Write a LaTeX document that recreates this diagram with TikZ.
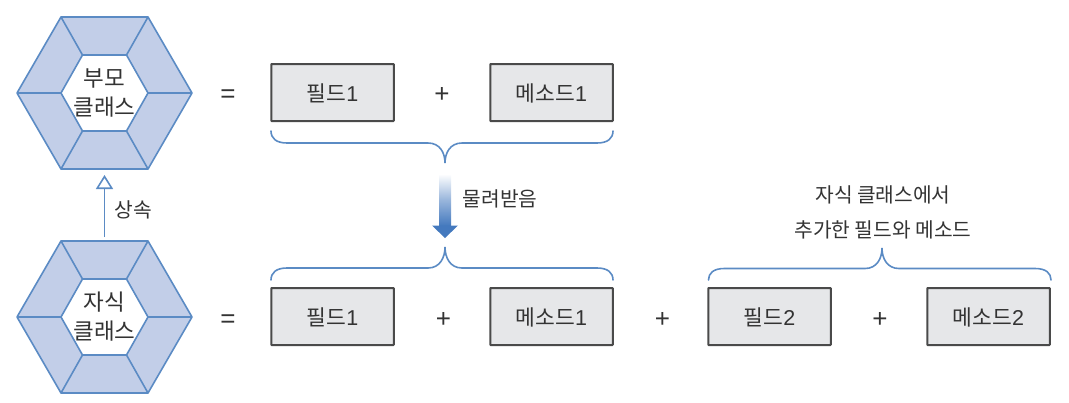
\documentclass[tikz,border=0pt]{standalone}
\usepackage{fontspec}
\setmainfont{Noto Sans CJK KR}
\newfontfamily\latinf{Liberation Sans}
\usetikzlibrary{arrows.meta,shadings,calc}
\definecolor{hexline}{HTML}{5B8BC4}
\definecolor{hexfill}{HTML}{C2CEE8}
\definecolor{boxfill}{HTML}{E6E7E9}
\definecolor{boxline}{HTML}{4A4A4A}
\definecolor{txt}{HTML}{333333}
\definecolor{arrowblue}{HTML}{4479BE}
\tikzset{
  x=1pt,y=-1pt,
  hexside/.style={draw=hexline,line width=1.6pt,fill=hexfill,line join=round},
  spoke/.style={draw=hexline,line width=1.6pt},
  databox/.style={draw=boxline,line width=2pt,fill=boxfill,rounded corners=0.6pt,minimum width=122.5pt,minimum height=57pt,inner sep=0pt,text=txt,text height=17pt,text depth=0pt,font=\fontsize{21.5}{24}\selectfont},
  oper/.style={text=txt,inner sep=0pt,font=\latinf\fontsize{26}{28}\selectfont},
  lbl/.style={text=txt,inner sep=0pt,font=\fontsize{20.3}{23}\selectfont,align=center},
  hexlbl/.style={text=txt,inner sep=0pt,font=\fontsize{22.5}{29}\selectfont,align=center},
  bracel/.style={draw=hexline,line width=1.6pt,line cap=round},
}
\newcommand{\hexa}[2]{%
  \begin{scope}[shift={(#1,#2)}]
    \draw[hexside] (-87.5,0) -- (-43.5,-76) -- (43.5,-76) -- (87.5,0) -- (43.5,76) -- (-43.5,76) -- cycle;
    \fill[white,draw=hexline,line width=1.6pt] (-43.5,0) -- (-22,-38) -- (22,-38) -- (43.5,0) -- (22,38) -- (-22,38) -- cycle;
    \draw[spoke] (-87.5,0) -- (-43.5,0) (87.5,0) -- (43.5,0)
      (-43.5,-76) -- (-22,-38) (43.5,-76) -- (22,-38)
      (-43.5,76) -- (-22,38) (43.5,76) -- (22,38);
  \end{scope}}
% brace: x1, x2, xm, end y, bar y, tip y
\newcommand{\bracec}[6]{%
  \draw[bracel] (#1,#4) .. controls ({#1},{#4*.4+#5*.6}) and ({#1+5},#5) .. ({#1+16},#5)
    -- ({#3-17},#5) .. controls ({#3-5},#5) and (#3,{(#5+#6)/2}) .. (#3,#6)
    .. controls (#3,{(#5+#6)/2}) and ({#3+5},#5) .. ({#3+17},#5)
    -- ({#2-16},#5) .. controls ({#2-5},#5) and (#2,{#4*.4+#5*.6}) .. (#2,#4);}
\begin{document}
\begin{tikzpicture}
\useasboundingbox (0,0) rectangle (1069,402);
\hexa{104.5}{93}
\hexa{104.5}{317}
\node[hexlbl] (pc) at (104.5,93) {부모\\클래스};
\node[hexlbl] (cc) at (104.5,317) {자식\\클래스};
\coordinate (ctop) at (104.5,237);
\coordinate (ptip) at (104.5,175);
\draw[hexline,line width=1.6pt,-{Triangle[open,fill=white,length=14pt,width=17pt,line width=1.6pt]}] (ctop) -- (ptip);
\node[lbl] (inh) at (133,210) {상속};
\node[oper] (e1) at (228,96) {=};
\node[oper] (e2) at (228,321) {=};
\node[databox] (f1) at (332.5,92.5) {필드{\latinf 1}};
\node[databox] (m1) at (551.5,92.5) {메소드{\latinf 1}};
\node[oper] (p1) at (442,95) {+};
\node[databox] (f2) at (332.5,316.5) {필드{\latinf 1}};
\node[databox] (m2) at (551.5,316.5) {메소드{\latinf 1}};
\node[oper] (p2) at (443.5,320) {+};
\node[oper] (p3) at (662.5,320) {+};
\node[databox] (f3) at (769.5,316.5) {필드{\latinf 2}};
\node[databox] (m3) at (988.5,316.5) {메소드{\latinf 2}};
\node[oper] (p4) at (880,320) {+};
\bracec{271}{613}{445}{131}{143}{163}
\bracec{271}{613}{445}{280}{268}{247}
\bracec{708.5}{1051}{882}{280}{268.5}{248}
\shade[top color=white,bottom color=arrowblue,middle color=arrowblue!55] (439,174) rectangle (451,226);
\fill[arrowblue] (432,225.5) -- (458,225.5) -- (445,238) -- cycle;
\node[lbl] (inhl) at (500,199) {물려받음};
\node[lbl] (add) at (883,212) {자식 클래스에서\\[12pt]추가한 필드와 메소드};
\end{tikzpicture}
\end{document}
